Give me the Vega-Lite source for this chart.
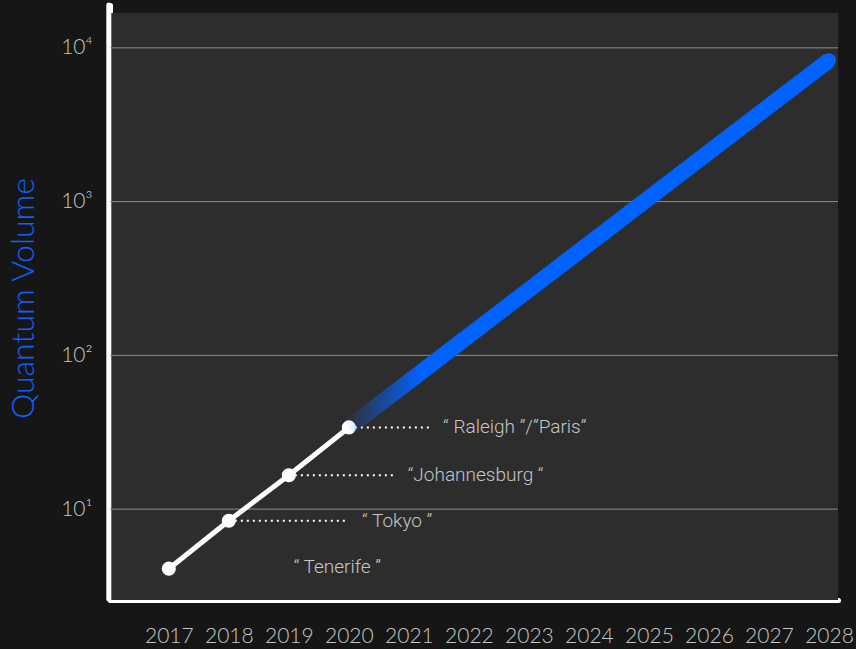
{
  "$schema": "https://vega.github.io/schema/vega-lite/v6.json",
  "width": 728,
  "height": 595,
  "autosize": {"type": "none"},
  "padding": {"left": 110, "top": 5, "right": 18, "bottom": 49},
  "background": "#161616",
  "config": {
    "view": {"stroke": null},
    "axis": {
      "grid": false,
      "ticks": false,
      "zindex": 1,
      "domainColor": "#ffffff",
      "domainWidth": 5,
      "domainCap": "round",
      "labelFont": "Lato",
      "labelFontSize": 21,
      "labelColor": "#c6c6c6",
      "labelFontWeight": 300
    }
  },
  "datasets": {
    "bg": [{"year": 2016.02, "year2": 2028.15, "qv": 2.565, "qv2": 16870}],
    "grid": [{"qv": 10}, {"qv": 100}, {"qv": 1000}, {"qv": 10000}],
    "frame": [{"year": 2016.0, "qv": 2.6, "qv2": 19000}],
    "history": [
      {"year": 2017, "qv": 4.1},
      {"year": 2018, "qv": 8.4},
      {"year": 2019, "qv": 16.6},
      {"year": 2020, "qv": 34}
    ],
    "projection": [
      {"year": 2020, "qv": 34},
      {"year": 2028, "qv": 8300}
    ],
    "leaders": [
      {"year": 2020, "year2": 2021.38, "qv": 34},
      {"year": 2019, "year2": 2020.77, "qv": 16.6},
      {"year": 2018, "year2": 2020.0, "qv": 8.4}
    ],
    "labels": [
      {"year": 2021.57, "qv": 34, "label": "“ Raleigh ”/”Paris”"},
      {"year": 2020.98, "qv": 16.6, "label": "“Johannesburg “"},
      {"year": 2020.22, "qv": 8.4, "label": "“ Tokyo ”"},
      {"year": 2019.08, "qv": 4.2, "label": "“ Tenerife ”"}
    ]
  },
  "layer": [
    {
      "data": {"name": "bg"},
      "mark": {"type": "rect", "fill": "#2d2d2d"},
      "encoding": {
        "x": {
          "field": "year", "type": "quantitative",
          "scale": {"domain": [2016.02, 2028.15], "nice": false, "zero": false},
          "title": null,
          "axis": {
            "values": [2017, 2018, 2019, 2020, 2021, 2022, 2023, 2024, 2025, 2026, 2027, 2028],
            "format": "d",
            "domainWidth": 5,
            "domainColor": "#ffffff",
            "labelPadding": 36,
            "labelBaseline": "middle",
            "labelFlush": false,
            "labelOverlap": false
          }
        },
        "x2": {"field": "year2"},
        "y": {
          "field": "qv", "type": "quantitative",
          "scale": {"type": "log", "domain": [2.565, 19000], "nice": false},
          "title": "Quantum Volume",
          "axis": {
            "values": [10, 100, 1000, 10000],
            "labelExpr": "datum.value == 10 ? '10¹' : datum.value == 100 ? '10²' : datum.value == 1000 ? '10³' : '10⁴'",
            "domainWidth": 5,
            "domainColor": "#ffffff",
            "labelPadding": 18,
            "titleColor": "#0f62fe",
            "titleFont": "Lato",
            "titleFontSize": 32,
            "titleFontWeight": 300,
            "titleAngle": -90,
            "titleAlign": "center",
            "titleBaseline": "middle",
            "titleX": -87,
            "titleY": 293
          }
        },
        "y2": {"field": "qv2"}
      }
    },
    {
      "data": {"name": "frame"},
      "mark": {"type": "rule", "color": "#ffffff", "strokeWidth": 5, "strokeCap": "round"},
      "encoding": {
        "x": {"field": "year", "type": "quantitative", "title": null},
        "y": {"field": "qv", "type": "quantitative", "title": "Quantum Volume"},
        "y2": {"field": "qv2"}
      }
    },
    {
      "data": {"name": "grid"},
      "mark": {"type": "rule", "color": "#8d8d8d", "strokeWidth": 1},
      "encoding": {
        "y": {"field": "qv", "type": "quantitative", "title": "Quantum Volume"}
      }
    },
    {
      "data": {"name": "leaders"},
      "mark": {"type": "rule", "color": "#ffffff", "strokeWidth": 2, "strokeDash": [2, 4]},
      "encoding": {
        "x": {"field": "year", "type": "quantitative", "title": null},
        "x2": {"field": "year2"},
        "y": {"field": "qv", "type": "quantitative", "title": "Quantum Volume"}
      }
    },
    {
      "data": {"name": "history"},
      "mark": {"type": "line", "color": "#ffffff", "strokeWidth": 5, "point": {"filled": true, "color": "#ffffff", "size": 200, "opacity": 1}},
      "encoding": {
        "x": {"field": "year", "type": "quantitative", "title": null},
        "y": {"field": "qv", "type": "quantitative", "title": "Quantum Volume"}
      }
    },
    {
      "data": {"name": "projection"},
      "mark": {
        "type": "line",
        "strokeWidth": 16,
        "strokeCap": "butt",
        "opacity": 1,
        "color": {
          "gradient": "linear",
          "x1": 0, "y1": 0, "x2": 1, "y2": 0,
          "stops": [
            {"offset": 0, "color": "rgba(15,98,254,0.05)"},
            {"offset": 0.15, "color": "#0062ff"},
            {"offset": 1, "color": "#0062ff"}
          ]
        }
      },
      "encoding": {
        "x": {"field": "year", "type": "quantitative", "title": null},
        "y": {"field": "qv", "type": "quantitative", "title": "Quantum Volume"}
      }
    },
    {
      "data": {"name": "projection"},
      "transform": [{"filter": "datum.year == 2028"}],
      "mark": {"type": "point", "filled": true, "color": "#0062ff", "opacity": 1, "size": 200},
      "encoding": {
        "x": {"field": "year", "type": "quantitative", "title": null},
        "y": {"field": "qv", "type": "quantitative", "title": "Quantum Volume"}
      }
    },
    {
      "data": {"name": "labels"},
      "mark": {"type": "text", "align": "left", "baseline": "middle", "font": "Roboto", "fontWeight": 300, "fontSize": 19, "color": "#c6c6c6"},
      "encoding": {
        "x": {"field": "year", "type": "quantitative", "title": null},
        "y": {"field": "qv", "type": "quantitative", "title": "Quantum Volume"},
        "text": {"field": "label"}
      }
    }
  ]
}
